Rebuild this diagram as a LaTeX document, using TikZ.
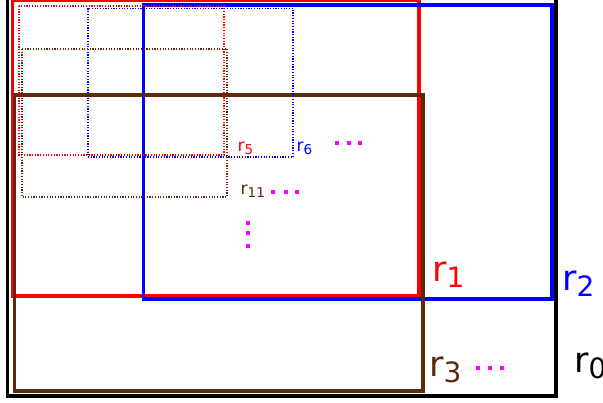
\documentclass[tikz,border=0pt]{standalone}
\usepackage{fontspec}
\setmainfont{DejaVu Sans}
\definecolor{rbrown}{RGB}{90,42,10}
\definecolor{rmag}{RGB}{255,0,255}
\newcommand\rsub[1]{\raisebox{-0.3ex}{\scalebox{0.8}{#1}}}
\tikzset{
  bigbox/.style={line width=3.4pt},
  dotbox/.style={line width=1.4pt, dash pattern=on 1.2pt off 1.5pt},
  biglbl/.style={anchor=base west, inner sep=0pt, font=\fontsize{35}{40}\selectfont},
  smalllbl/.style={anchor=base west, inner sep=0pt, font=\fontsize{17}{20}\selectfont},
  dotsq/.style={fill=rmag}
}
\begin{document}
\begin{tikzpicture}[x=1pt,y=-1pt]
\useasboundingbox (0,0) rectangle (603,403);
% big rectangles
\draw[bigbox,black] (7.5,-2) rectangle (556,396);
\draw[bigbox,red] (12.5,0) rectangle (419,296);
\draw[bigbox,blue] (143.5,5) rectangle (552,299);
\draw[bigbox,rbrown] (14.5,95) rectangle (423,391);
% dotted rectangles
\draw[dotbox,red] (19,6) rectangle (224,155);
\draw[dotbox,blue] (88,8.5) rectangle (293,157);
\draw[dotbox,rbrown] (22,49) rectangle (227,197);
% labels
\node[biglbl,red] (l1) at (432,282) {r\rsub{1}};
\node[biglbl,blue] (l2) at (562,291) {r\rsub{2}};
\node[biglbl,rbrown] (l3) at (429,377) {r\rsub{3}};
\node[biglbl,black] (l0) at (574,373) {r\rsub{0}};
\node[smalllbl,red] (l5) at (237.5,152) {r\rsub{5}};
\node[smalllbl,blue] (l6) at (296.5,152) {r\rsub{6}};
\node[smalllbl,rbrown] (l11) at (240.5,195) {r\rsub{11}};
% magenta dots
\foreach \x in {337,349,360} \fill[dotsq] (\x-2,141) rectangle +(4,4);
\foreach \x in {273,286,297} \fill[dotsq] (\x-2,190) rectangle +(4,4);
\foreach \x in {478,490,502} \fill[dotsq] (\x-2,366) rectangle +(4,4);
\foreach \y in {223,233,246} \fill[dotsq] (246,\y-2) rectangle +(4,4);
\end{tikzpicture}
\end{document}
